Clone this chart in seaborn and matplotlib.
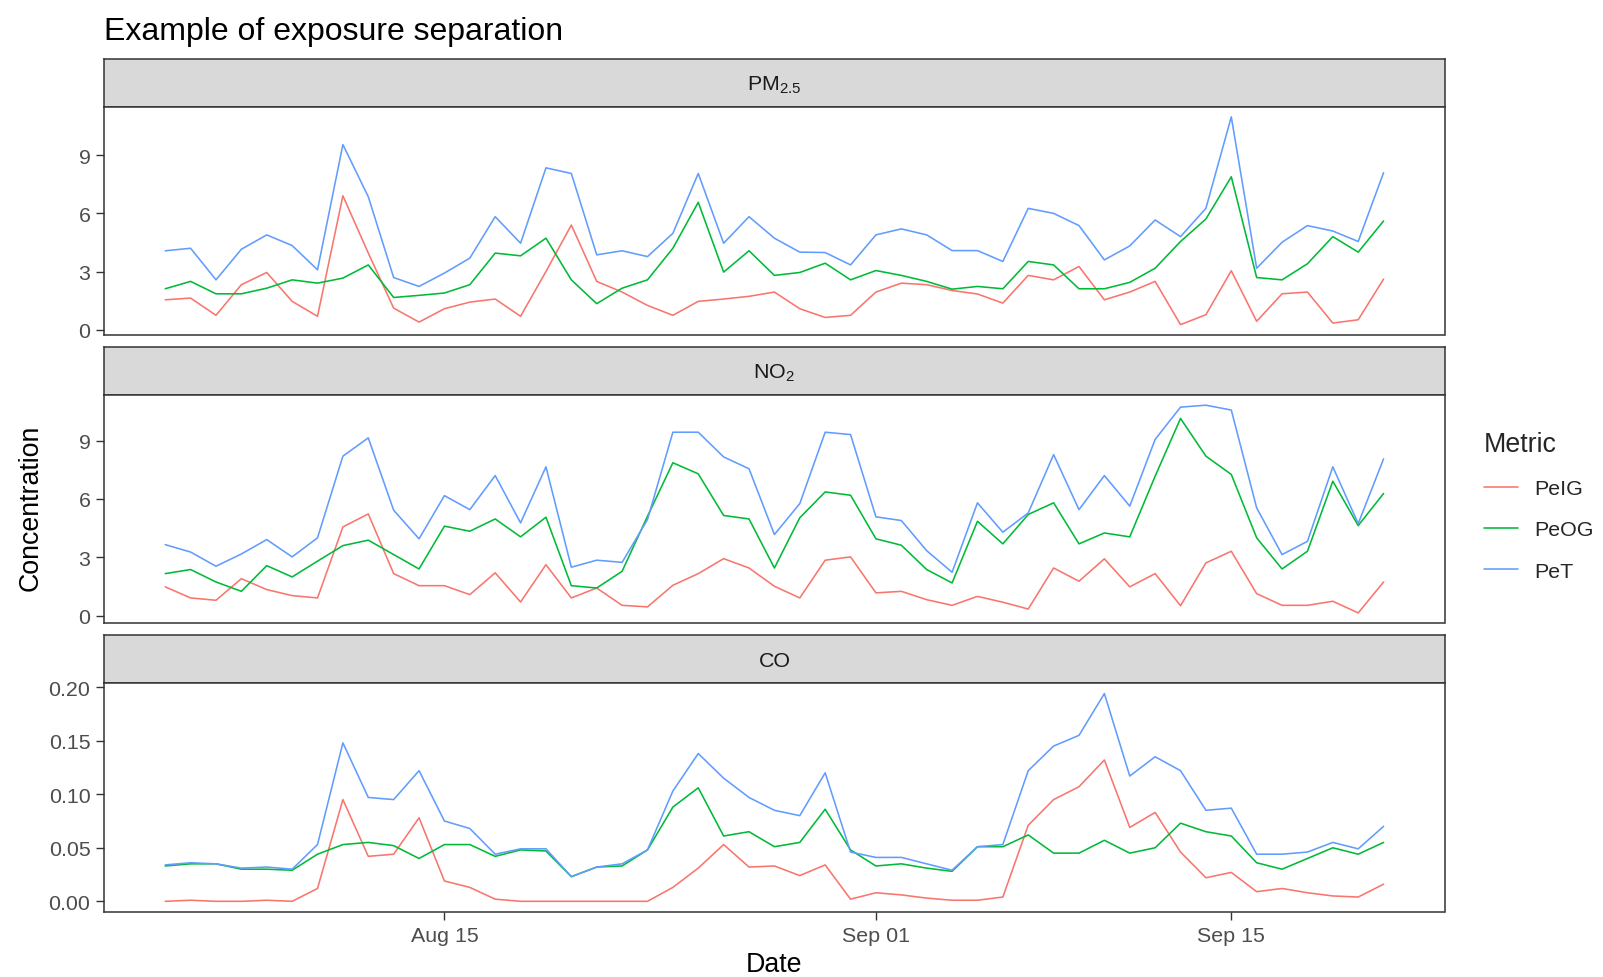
import numpy as np
import pandas as pd
import matplotlib
matplotlib.use("Agg")
import matplotlib.pyplot as plt
import matplotlib.dates as mdates
import seaborn as sns

# ---------------- data ----------------
dates = pd.date_range("2019-08-04", "2019-09-21", freq="D")
metrics = ["PeIG", "PeOG", "PeT"]
pollutants = ["PM2.5", "NO2", "CO"]
strip_labels = [r"PM$_{2.5}$", r"NO$_2$", "CO"]
yticks = {"PM2.5": [0, 3, 6, 9], "NO2": [0, 3, 6, 9], "CO": [0.00, 0.05, 0.10, 0.15, 0.20]}
ytick_labels = {"PM2.5": ["0", "3", "6", "9"], "NO2": ["0", "3", "6", "9"],
                "CO": ["0.00", "0.05", "0.10", "0.15", "0.20"]}
xtick_dates = ["2019-08-15", "2019-09-01", "2019-09-15"]

pm25_peig = [1.54, 1.63, 0.74, 2.32, 2.95, 1.46, 0.69, 6.91, 3.95, 1.11, 0.39, 1.08, 1.42, 1.58, 0.69, 3.0, 5.4,
             2.49, 1.94, 1.25, 0.74, 1.46, 1.58, 1.72, 1.94,
             1.08, 0.63, 0.74, 1.94, 2.4, 2.32, 2.02, 1.84, 1.37, 2.8, 2.57, 3.26, 1.54, 1.94, 2.49, 0.26, 0.77,
             3.04, 0.43, 1.85, 1.94, 0.34, 0.51, 2.61]
pm25_peog = [2.11, 2.49, 1.85, 1.85, 2.14, 2.57, 2.4, 2.66, 3.34, 1.66, 1.77, 1.89, 2.32, 3.95, 3.81, 4.72, 2.57,
             1.34, 2.14, 2.57, 4.2, 6.57, 2.97, 4.07, 2.8,
             2.95, 3.43, 2.57, 3.05, 2.8, 2.49, 2.09, 2.23, 2.11, 3.52, 3.34, 2.11, 2.11, 2.44, 3.17, 4.55, 5.71,
             7.89, 2.69, 2.57, 3.4, 4.8, 4.0, 5.61]
pm25_pet = [4.07, 4.2, 2.57, 4.15, 4.89, 4.34, 3.09, 9.55, 6.86, 2.69, 2.23, 2.92, 3.69, 5.83, 4.46, 8.35, 8.06,
            3.86, 4.07, 3.77, 4.97, 8.06, 4.46, 5.83, 4.72,
            4.0, 3.98, 3.34, 4.89, 5.2, 4.89, 4.08, 4.08, 3.52, 6.26, 6.0, 5.37, 3.6, 4.32, 5.66, 4.8, 6.26,
            10.98, 3.17, 4.51, 5.37, 5.09, 4.55, 8.1]

no2_peig = [1.48, 0.91, 0.79, 1.9, 1.34, 1.03, 0.91, 4.56, 5.23, 2.16, 1.54, 1.54, 1.08, 2.2, 0.7, 2.62, 0.91,
            1.42, 0.53, 0.45, 1.56, 2.16, 2.93, 2.45, 1.51,
            0.91, 2.85, 3.02, 1.17, 1.25, 0.82, 0.53, 0.99, 0.69, 0.34, 2.45, 1.77, 2.92, 1.48, 2.16, 0.51, 2.71,
            3.31, 1.13, 0.53, 0.53, 0.74, 0.14, 1.73]
no2_peog = [2.16, 2.37, 1.73, 1.25, 2.57, 1.99, 2.8, 3.6, 3.88, 3.14, 2.4, 4.6, 4.34, 4.97, 4.05, 5.06, 1.54,
            1.42, 2.28, 5.11, 7.86, 7.29, 5.15, 4.97, 2.45,
            5.03, 6.36, 6.19, 3.95, 3.62, 2.37, 1.68, 4.85, 3.69, 5.2, 5.8, 3.69, 4.25, 4.05, 7.17, 10.14, 8.2,
            7.26, 4.0, 2.4, 3.31, 6.91, 4.63, 6.28]
no2_pet = [3.65, 3.27, 2.54, 3.17, 3.91, 3.02, 4.0, 8.2, 9.14, 5.42, 3.95, 6.17, 5.45, 7.2, 4.77, 7.65, 2.49,
           2.85, 2.74, 4.94, 9.43, 9.43, 8.16, 7.55, 4.17,
           5.76, 9.43, 9.31, 5.08, 4.89, 3.34, 2.23, 5.8, 4.29, 5.28, 8.28, 5.45, 7.2, 5.63, 9.06, 10.72, 10.82,
           10.57, 5.54, 3.14, 3.82, 7.65, 4.73, 8.06]

co_peig = [0.0, 0.001, 0.0, 0.0, 0.001, 0.0, 0.012, 0.095, 0.042, 0.044, 0.078, 0.019, 0.013, 0.002, 0.0, 0.0,
           0.0, 0.0, 0.0, 0.0, 0.013, 0.031, 0.053, 0.032, 0.033,
           0.024, 0.034, 0.002, 0.008, 0.006, 0.003, 0.001, 0.001, 0.004, 0.071, 0.095, 0.107, 0.132, 0.069,
           0.083, 0.046, 0.022, 0.027, 0.009, 0.012, 0.008, 0.005, 0.004, 0.016]
co_peog = [0.033, 0.035, 0.035, 0.030, 0.030, 0.029, 0.044, 0.053, 0.055, 0.052, 0.040, 0.053, 0.053, 0.042,
           0.048, 0.047, 0.023, 0.032, 0.033, 0.048, 0.088, 0.106, 0.061, 0.065, 0.051,
           0.055, 0.086, 0.048, 0.033, 0.035, 0.031, 0.028, 0.051, 0.051, 0.062, 0.045, 0.045, 0.057, 0.045,
           0.050, 0.073, 0.065, 0.061, 0.036, 0.030, 0.040, 0.050, 0.044, 0.055]
co_pet = [0.034, 0.036, 0.035, 0.031, 0.032, 0.030, 0.053, 0.148, 0.097, 0.095, 0.122, 0.075, 0.068, 0.044,
          0.049, 0.049, 0.023, 0.032, 0.035, 0.048, 0.103, 0.138, 0.115, 0.097, 0.085,
          0.080, 0.120, 0.046, 0.041, 0.041, 0.035, 0.029, 0.051, 0.053, 0.122, 0.145, 0.155, 0.194, 0.117,
          0.135, 0.122, 0.085, 0.087, 0.044, 0.044, 0.046, 0.055, 0.049, 0.070]

series = {
    "PM2.5": {"PeIG": pm25_peig, "PeOG": pm25_peog, "PeT": pm25_pet},
    "NO2": {"PeIG": no2_peig, "PeOG": no2_peog, "PeT": no2_pet},
    "CO": {"PeIG": co_peig, "PeOG": co_peog, "PeT": co_pet},
}

rows = []
for pol in pollutants:
    for m in metrics:
        for d, v in zip(dates, series[pol][m]):
            rows.append({"Date": d, "Metric": m, "Pollutant": pol, "Concentration": v})
df = pd.DataFrame(rows)

# ---------------- style ----------------
sns.set_theme(style="white")
plt.rcParams["font.family"] = ["Liberation Sans", "DejaVu Sans"]
plt.rcParams["mathtext.fontset"] = "custom"
plt.rcParams["mathtext.rm"] = "Liberation Sans"
plt.rcParams["mathtext.it"] = "Liberation Sans"
plt.rcParams["mathtext.default"] = "regular"

palette = {"PeIG": "#F8766D", "PeOG": "#00BA38", "PeT": "#619CFF"}
W, H = 1603, 978
fig = plt.figure(figsize=(W / 100, H / 100), dpi=100)

LEFT, RIGHT = 104.3, 1444.5
strip_tops = [59.5, 347.8, 636.2]
STRIP_H = 48.0
PANEL_H = 228.5
BORDER = "#333333"
TICKCOL = "#4D4D4D"


def box(x0, y0, x1, y1):
    return [x0 / W, 1 - y1 / H, (x1 - x0) / W, (y1 - y0) / H]


dmin, dmax = dates.min(), dates.max()
span = dmax - dmin
xlim = (mdates.date2num(dmin - span * 0.05), mdates.date2num(dmax + span * 0.05))

handles = labels = None
for k, pol in enumerate(pollutants):
    st = strip_tops[k]
    sax = fig.add_axes(box(LEFT, st, RIGHT, st + STRIP_H))
    sax.set_facecolor("#D9D9D9")
    sax.set_xticks([]); sax.set_yticks([])
    for s in sax.spines.values():
        s.set_color(BORDER); s.set_linewidth(1.1)
    sax.text(0.5, 0.47, strip_labels[k], ha="center", va="center", fontsize=15.4, color="#1A1A1A",
             transform=sax.transAxes)

    ax = fig.add_axes(box(LEFT, st + STRIP_H, RIGHT, st + STRIP_H + PANEL_H))
    sub = df[df["Pollutant"] == pol]
    sns.lineplot(data=sub, x="Date", y="Concentration", hue="Metric", hue_order=metrics,
                 palette=palette, estimator=None, linewidth=1.15, ax=ax, legend=(k == 0))
    if k == 0:
        handles, labels = ax.get_legend_handles_labels()
        ax.get_legend().remove()
    vals = sub["Concentration"]
    rng = vals.max() - vals.min()
    ax.set_ylim(vals.min() - 0.05 * rng, vals.max() + 0.05 * rng)
    ax.set_xlim(*xlim)
    ax.set_yticks(yticks[pol])
    ax.set_yticklabels(ytick_labels[pol])
    ax.set_xlabel(""); ax.set_ylabel("")
    ax.set_facecolor("white")
    for s in ax.spines.values():
        s.set_visible(True); s.set_color(BORDER); s.set_linewidth(1.1)
    ax.tick_params(axis="y", left=True, length=6, width=1.0, color=BORDER, labelsize=15.4,
                   labelcolor=TICKCOL, pad=4)
    if k == 2:
        ax.set_xticks([mdates.date2num(pd.Timestamp(t)) for t in xtick_dates])
        ax.xaxis.set_major_formatter(mdates.DateFormatter("%b %d"))
        ax.tick_params(axis="x", bottom=True, length=6, width=1.0, color=BORDER, labelsize=15.4,
                       labelcolor=TICKCOL, pad=4)
    else:
        ax.set_xticks([])
    ax.grid(False)

fig.text(LEFT / W, 1 - 32 / H, "Example of exposure separation", ha="left", va="center",
         fontsize=23, color="black")
fig.text((LEFT + RIGHT) / 2 / W, 1 - 965 / H, "Date", ha="center", va="center", fontsize=19.25,
         color="black")
fig.text(31 / W, 1 - 508 / H, "Concentration", ha="center", va="center", rotation=90,
         fontsize=19.25, color="black")

leg = fig.legend(handles, labels, title="Metric", loc="upper left",
                 bbox_to_anchor=(1475 / W, 1 - 423 / H), frameon=False, fontsize=15.4,
                 title_fontsize=19.25, handlelength=1.6, handletextpad=0.75, labelspacing=1.05,
                 borderaxespad=0)
leg._legend_box.align = "left"
for line in leg.get_lines():
    line.set_linewidth(1.15)

fig.savefig("out.png", dpi=100, facecolor="white")
